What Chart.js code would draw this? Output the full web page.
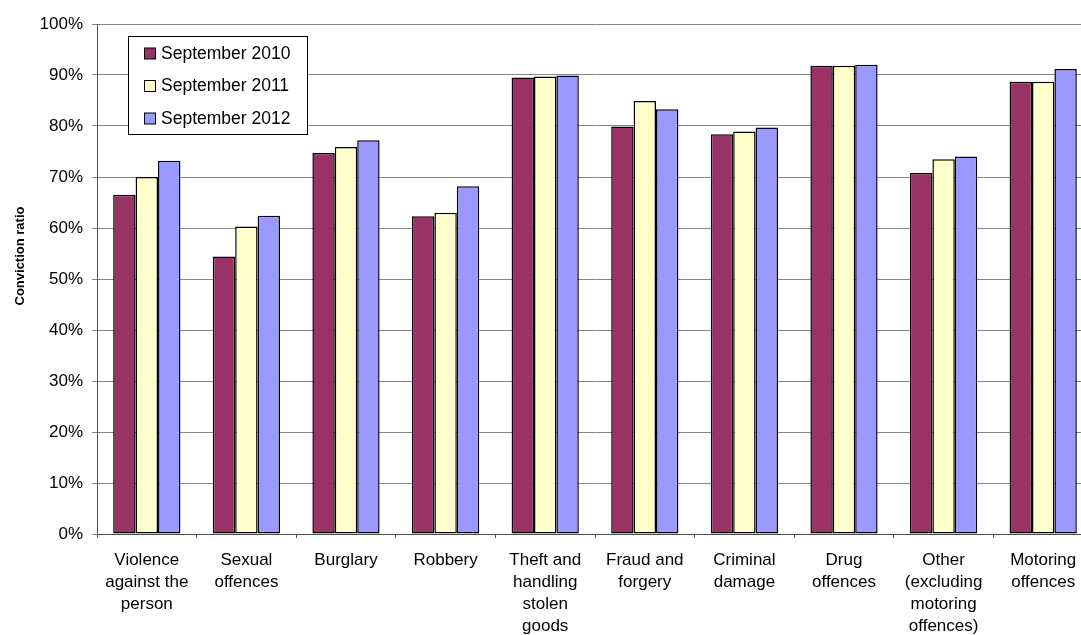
<!DOCTYPE html>
<html>
<head>
<meta charset="utf-8">
<script src="https://cdn.jsdelivr.net/npm/chart.js@4/dist/chart.umd.min.js"></script>
<style>
  html, body { margin: 0; padding: 0; background: #fff; overflow: hidden; }
  #wrap { width: 1100px; height: 635px; position: relative; }
</style>
</head>
<body>
<div id="wrap"><canvas id="chart"></canvas></div>
<script>
// Conviction ratio by offence group
const categories = [
  ['Violence', 'against the', 'person'],
  ['Sexual', 'offences'],
  ['Burglary'],
  ['Robbery'],
  ['Theft and', 'handling', 'stolen', 'goods'],
  ['Fraud and', 'forgery'],
  ['Criminal', 'damage'],
  ['Drug', 'offences'],
  ['Other', '(excluding', 'motoring', 'offences)'],
  ['Motoring', 'offences']
];
const seriesNames = ['September 2010', 'September 2011', 'September 2012'];
const sep2010 = [66.5, 54.4, 74.7, 62.3, 89.5, 79.9, 78.4, 91.8, 70.8, 88.7];
const sep2011 = [70.0, 60.3, 75.9, 63.0, 89.7, 84.9, 78.9, 91.8, 73.5, 88.7];
const sep2012 = [73.2, 62.4, 77.2, 68.2, 89.9, 83.3, 79.7, 92.0, 74.0, 91.2];
const colors = ['#993366', '#FFFFCC', '#9999FF'];
const yAxisTitle = 'Conviction ratio';

const FONT = '"Liberation Sans", Arial, sans-serif';

// legend box + rotated axis title, drawn Excel-style inside the chart
const extras = {
  id: 'extras',
  afterDraw(chart) {
    const ctx = chart.ctx;
    ctx.save();
    // legend box
    const bx = 128.5, by = 36.5, bw = 179, bh = 98;
    ctx.fillStyle = '#fff';
    ctx.fillRect(bx, by, bw, bh);
    ctx.strokeStyle = '#000';
    ctx.lineWidth = 1;
    ctx.strokeRect(bx, by, bw, bh);
    ctx.font = '17.5px ' + FONT;
    ctx.textBaseline = 'middle';
    ctx.textAlign = 'left';
    chart.data.datasets.forEach((ds, i) => {
      const cy = 53.5 + i * 32.5;
      ctx.fillStyle = ds.backgroundColor;
      ctx.fillRect(144.5, cy - 5.5, 11, 11);
      ctx.strokeStyle = '#000';
      ctx.strokeRect(144.5, cy - 5.5, 11, 11);
      ctx.fillStyle = '#000';
      ctx.fillText(ds.label, 161, cy + 0.5);
    });
    // y axis title
    ctx.translate(20, 256);
    ctx.rotate(-Math.PI / 2);
    ctx.font = 'bold 13px ' + FONT;
    ctx.textAlign = 'center';
    ctx.fillText(yAxisTitle, 0, 0);
    ctx.restore();
  }
};

new Chart(document.getElementById('chart'), {
  type: 'bar',
  data: {
    labels: categories,
    datasets: [
      { label: seriesNames[0], data: sep2010, backgroundColor: colors[0] },
      { label: seriesNames[1], data: sep2011, backgroundColor: colors[1] },
      { label: seriesNames[2], data: sep2012, backgroundColor: colors[2] }
    ]
  },
  options: {
    responsive: true,
    maintainAspectRatio: false,
    animation: false,
    layout: { padding: { left: 0, top: 24, right: 7, bottom: 0 } },
    datasets: {
      bar: {
        categoryPercentage: 0.675,
        barPercentage: 1.0,
        borderColor: '#000',
        borderWidth: 1.5,
        borderSkipped: false
      }
    },
    plugins: {
      legend: { display: false },
      tooltip: { enabled: false }
    },
    scales: {
      x: {
        grid: {
          offset: true,
          drawOnChartArea: false,
          drawTicks: true,
          tickLength: 4,
          color: '#4d4d4d'
        },
        border: { color: '#4d4d4d', width: 1 },
        ticks: {
          color: '#000',
          padding: 11,
          maxRotation: 0,
          autoSkip: false,
          font: { family: FONT, size: 17, lineHeight: '22px' }
        },
        afterFit: (scale) => { scale.height = 101; }
      },
      y: {
        min: 0,
        max: 100,
        grid: { color: '#868686', tickLength: 5, lineWidth: 1 },
        border: { color: '#4d4d4d', width: 1 },
        ticks: {
          stepSize: 10,
          color: '#000',
          padding: 9,
          font: { family: FONT, size: 17 },
          callback: (v) => v + '%'
        },
        afterFit: (scale) => { scale.width = 97; }
      }
    }
  },
  plugins: [extras]
});
</script>
</body>
</html>
